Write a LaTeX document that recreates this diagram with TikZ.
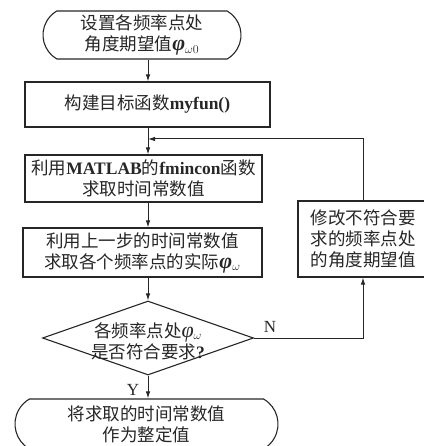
\documentclass[tikz,border=0pt]{standalone}
\usepackage{fontspec}
\usepackage{amsmath}
\setmainfont{Liberation Serif}
\newfontfamily\cjk{Noto Sans CJK SC}
\newcommand\latb[1]{{\rmfamily\bfseries #1}}
\newcommand\phib{{\fontsize{22}{21}\selectfont\rmfamily\bfseries\itshape φ}}
\newcommand\phii{{\fontsize{22}{21}\selectfont\rmfamily\itshape φ}}
\usetikzlibrary{shapes.geometric,shapes.misc,arrows.meta}
\begin{document}
\begin{tikzpicture}[x=1pt,y=-1pt,
  every node/.style={font=\fontsize{17.5}{21}\selectfont\cjk, align=center, inner sep=0pt, text=black!85},
  proc/.style={draw=black!85, line width=1.1pt, rectangle},
  term/.style={draw=black!85, line width=1.1pt, rounded rectangle, rounded rectangle arc length=120},
  dec/.style={draw=black!85, line width=1.1pt, diamond},
  flow/.style={draw=black!85, line width=1pt, -{Latex[length=7pt,width=4.5pt]}},
  lbl/.style={font=\fontsize{17}{20}\selectfont\rmfamily}]
\useasboundingbox (0,0) rectangle (423,446);

\node[term, minimum width=198pt, minimum height=48pt] (t1) at (142,35)
  {设置各频率点处\\角度期望值\phib$_{\omega0}$};
\node[proc, minimum width=245pt, minimum height=45pt] (b2) at (147.5,104.5)
  {构建目标函数\latb{myfun()}};
\node[proc, minimum width=237pt, minimum height=47pt] (b3) at (143.5,178.5)
  {利用\latb{MATLAB}的\latb{fmincon}函数\\求取时间常数值};
\node[proc, minimum width=239pt, minimum height=49pt] (b4) at (142.5,252.5)
  {利用上一步的时间常数值\\求取各个频率点的实际\phib$_{\omega}$};
\node[dec, minimum width=211pt, minimum height=74pt] (d) at (148,338) {};
\node (dt) at (148,341) {各频率点处\phii$_{\omega}$\\是否符合要求\latb{?}};
\node[term, minimum width=263pt, minimum height=50pt] (t2) at (146.5,424)
  {将求取的时间常数值\\作为整定值};
\node[proc, minimum width=130pt, minimum height=76pt] (b5) at (363,239)
  {修改不符合要\\求的频率点处\\的角度期望值};

\node[lbl] (nl) at (270,327) {N};
\node[lbl] (yl) at (133,390) {Y};

\coordinate (ax) at (148,0);
\coordinate (j) at (148,139);
\draw[flow] (t1.south -| ax) -- (b2.north -| ax);
\draw[flow] (b2.south -| ax) -- (b3.north -| ax);
\draw[flow] (b3.south -| ax) -- (b4.north -| ax);
\draw[flow] (b4.south -| ax) -- (d.north);
\draw[flow] (d.south) -- (t2.north -| d.south);
\draw[flow] (d.east) -| (b5.south);
\draw[flow] (b5.north) |- (j);
\end{tikzpicture}
\end{document}
